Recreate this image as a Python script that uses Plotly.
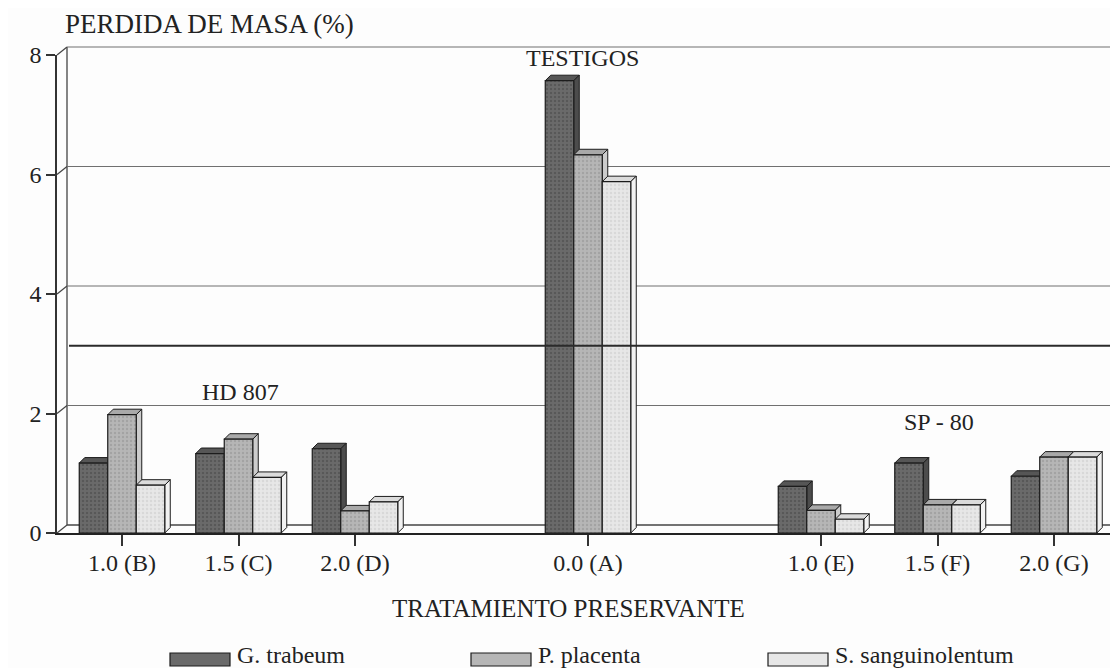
import plotly.graph_objects as go

# ---------------- data ----------------
CATEGORIES = ["1.0 (B)", "1.5 (C)", "2.0 (D)", "0.0 (A)", "1.0 (E)", "1.5 (F)", "2.0 (G)"]
SERIES_NAMES = ["G. trabeum", "P. placenta", "S. sanguinolentum"]
G_TRABEUM = [1.17, 1.33, 1.41, 7.57, 0.78, 1.17, 0.95]
P_PLACENTA = [1.98, 1.57, 0.37, 6.33, 0.38, 0.47, 1.27]
S_SANGUINOLENTUM = [0.80, 0.93, 0.52, 5.88, 0.23, 0.47, 1.27]
Y_TICKS = [0, 2, 4, 6, 8]
THRESHOLD = 3.0
Y_TITLE = "PERDIDA DE MASA (%)"
X_TITLE = "TRATAMIENTO PRESERVANTE"
GROUP_TEXT = ["HD 807", "TESTIGOS", "SP - 80"]

# ---------------- layout constants (page pixels) ----------------
PAGE_W, PAGE_H = 1118, 668
BODY = 8                      # default html body margin
W, H = PAGE_W - BODY, PAGE_H - BODY
L_PAGE = 57                   # front wall x (page px)
T_PAGE = 55                   # y = 8 (page px)
BASE_PAGE = 533               # y = 0 (page px)
L = L_PAGE - BODY
T = T_PAGE - BODY
PLOT_W = PAGE_W - L_PAGE
PLOT_H = BASE_PAGE - T_PAGE
B = H - (BASE_PAGE - BODY)
SLOTS = [0, 1, 2, 4, 6, 7, 8]          # horizontal slot of each category
PX_PER_SLOT = 116.5
X0 = -(122 - L_PAGE) / PX_PER_SLOT
X1 = X0 + PLOT_W / PX_PER_SLOT
Y0, Y1 = 0, 8
PX_PER_Y = PLOT_H / (Y1 - Y0)
BAR_W = 28.5 / PX_PER_SLOT
DEPTH_PX = 5.5
BACK_DX_PX, BACK_DY_PX = 10, 8

FONT = "Liberation Serif, Times New Roman, serif"
INK = "#222222"

FRONT = ["#6a6a6a", "#b6b6b6", "#e7e7e7"]
DOTS = ["#454545", "#909090", "#c8c8c8"]
TOPS = ["#565656", "#a9a9a9", "#dbdbdb"]
SIDES = ["#4c4c4c", "#cccccc", "#f2f2f2"]


def dx(px):
    return px / PX_PER_SLOT


def dy(px):
    return px / PX_PER_Y


def paper_x(x):
    return (x - X0) / (X1 - X0)


def paper_y(y):
    return (y - Y0) / (Y1 - Y0)


def pix_paper_x(px):
    return (px - L_PAGE) / PLOT_W


def pix_paper_y(py):
    return (BASE_PAGE - py) / PLOT_H


fig = go.Figure()
series_values = [G_TRABEUM, P_PLACENTA, S_SANGUINOLENTUM]
shapes = []

# ---------------- back plane / frame (paper refs, not clipped) ----------------
wall_x = X0
back_x = X0 + dx(BACK_DX_PX)
bdy = dy(BACK_DY_PX)
dark_line = dict(color="#444444", width=1.3)
grid_line = dict(color="#707070", width=1.2)
shapes.append(dict(type="line", xref="paper", yref="paper", layer="below",
                   x0=paper_x(back_x), x1=paper_x(back_x),
                   y0=paper_y(0 + bdy), y1=paper_y(Y_TICKS[-1] + bdy), line=dark_line))
for v in Y_TICKS:
    shapes.append(dict(type="line", xref="paper", yref="paper", layer="below",
                       x0=paper_x(wall_x), x1=paper_x(back_x),
                       y0=paper_y(v), y1=paper_y(v + bdy), line=dark_line))
    shapes.append(dict(type="line", xref="paper", yref="paper", layer="below",
                       x0=paper_x(back_x), x1=1.0,
                       y0=paper_y(v + bdy), y1=paper_y(v + bdy),
                       line=grid_line if v > 0 else dark_line))

# threshold line on back plane, drawn over bars
shapes.append(dict(type="line", xref="paper", yref="paper", layer="above",
                   x0=paper_x(back_x + dx(2)), x1=1.0,
                   y0=paper_y(THRESHOLD + bdy), y1=paper_y(THRESHOLD + bdy),
                   line=dict(color="#2a2a2a", width=2)))

# ---------------- bars ----------------
ddx, ddy = dx(DEPTH_PX), dy(DEPTH_PX)
for i, (name, vals) in enumerate(zip(SERIES_NAMES, series_values)):
    off = (i - 1.5) * BAR_W
    fig.add_trace(go.Bar(
        x=SLOTS, y=vals, name=name, width=BAR_W, offset=off,
        marker=dict(color=FRONT[i], line=dict(color="#1c1c1c", width=1.2),
                    pattern=dict(shape=".", fgcolor=DOTS[i], size=4, solidity=0.3,
                                 fillmode="overlay")),
        showlegend=False, hovertemplate="%{y}<extra>" + name + "</extra>"))
    for s, v in zip(SLOTS, vals):
        xl = s + off
        xr = xl + BAR_W
        shapes.append(dict(type="path", xref="x", yref="y", layer="below",
                           path=f"M {xl},{v} L {xl+ddx},{v+ddy} L {xr+ddx},{v+ddy} L {xr},{v} Z",
                           fillcolor=TOPS[i], line=dict(color="#1c1c1c", width=1)))
        shapes.append(dict(type="path", xref="x", yref="y", layer="below",
                           path=f"M {xr},{v} L {xr+ddx},{v+ddy} L {xr+ddx},{ddy} L {xr},0 Z",
                           fillcolor=SIDES[i], line=dict(color="#1c1c1c", width=1)))

# ---------------- legend (manual) ----------------
LEG_BOX_X = [170, 471, 768]
LEG_BOX_W = 60
LEG_Y0, LEG_Y1 = 653, 666
annotations = []
for i, name in enumerate(SERIES_NAMES):
    shapes.append(dict(type="rect", xref="paper", yref="paper", layer="above",
                       x0=pix_paper_x(LEG_BOX_X[i]), x1=pix_paper_x(LEG_BOX_X[i] + LEG_BOX_W),
                       y0=pix_paper_y(LEG_Y1), y1=pix_paper_y(LEG_Y0),
                       fillcolor=FRONT[i], line=dict(color="#1c1c1c", width=1.2)))
    annotations.append(dict(xref="paper", yref="paper",
                            x=pix_paper_x(LEG_BOX_X[i] + LEG_BOX_W + 5), y=pix_paper_y(655),
                            xanchor="left", yanchor="middle", showarrow=False, text=name,
                            font=dict(family=FONT, size=24, color=INK)))

# titles
annotations.append(dict(xref="paper", yref="paper", x=pix_paper_x(63), y=pix_paper_y(24),
                        xanchor="left", yanchor="middle", showarrow=False, text=Y_TITLE,
                        font=dict(family=FONT, size=27, color=INK)))
annotations.append(dict(xref="paper", yref="paper", x=pix_paper_x(568), y=pix_paper_y(608),
                        xanchor="center", yanchor="middle", showarrow=False, text=X_TITLE,
                        font=dict(family=FONT, size=25, color=INK)))
# group labels
GROUP_LABEL_SLOT = [1, 4, 7]
GROUP_LABEL_SHIFT_PX = [2, -6, 1]
GROUP_LABEL_Y_PX = [392, 58, 422]
for text, slot, sh, ypx in zip(GROUP_TEXT, GROUP_LABEL_SLOT, GROUP_LABEL_SHIFT_PX, GROUP_LABEL_Y_PX):
    annotations.append(dict(xref="x", yref="paper", x=slot + dx(sh), y=pix_paper_y(ypx),
                            xanchor="center", yanchor="middle", showarrow=False, text=text,
                            font=dict(family=FONT, size=24, color=INK)))

fig.update_layout(
    width=W, height=H,
    margin=dict(l=L, r=0, t=T, b=B),
    paper_bgcolor="#fdfdfd", plot_bgcolor="rgba(0,0,0,0)",
    barmode="overlay",
    shapes=shapes, annotations=annotations,
    showlegend=False,
    font=dict(family=FONT, size=24, color=INK),
    xaxis=dict(range=[X0, X1], tickmode="array", tickvals=SLOTS, ticktext=CATEGORIES,
               ticks="outside", ticklen=11, tickwidth=1.5, tickcolor="#333333",
               ticklabelstandoff=-4,
               showline=True, linecolor="#222222", linewidth=2,
               showgrid=False, zeroline=False, fixedrange=True,
               tickfont=dict(family=FONT, size=24, color=INK)),
    yaxis=dict(range=[Y0, Y1], tickmode="array", tickvals=Y_TICKS,
               ticks="outside", ticklen=9, tickwidth=1.5, tickcolor="#333333",
               showline=True, linecolor="#333333", linewidth=1.5,
               showgrid=False, zeroline=False, fixedrange=True,
               tickfont=dict(family=FONT, size=24, color=INK)),
)

fig.write_html("out.html")
